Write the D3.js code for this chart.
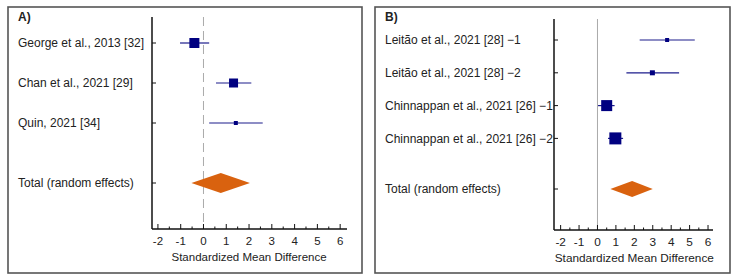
<!DOCTYPE html>
<html>
<head>
<meta charset="utf-8">
<script src="https://cdn.jsdelivr.net/npm/d3@7"></script>
<style>
  body { margin: 0; background: #fff; }
  text { font-family: "Liberation Sans", Arial, sans-serif; fill: #222; }
</style>
</head>
<body>
<div id="chart-area"></div>
<script>
// Panel A data
const studiesA = ['George et al., 2013 [32]', 'Chan et al., 2021 [29]', 'Quin, 2021 [34]'];
const smdA = [-0.4, 1.32, 1.42];
const lowA = [-1.03, 0.55, 0.25];
const highA = [0.25, 2.1, 2.6];
const weightA = [10, 9, 4];
const totalA = [-0.53, 0.76, 2.04];

// Panel B data
const studiesB = ['Leitão et al., 2021 [28] \u22121', 'Leitão et al., 2021 [28] \u22122',
    'Chinnappan et al., 2021 [26] \u22121', 'Chinnappan et al., 2021 [26] \u22122'];
const smdB = [3.78, 2.98, 0.5, 0.97];
const lowB = [2.29, 1.57, 0.03, 0.57];
const highB = [5.28, 4.43, 0.93, 1.39];
const weightB = [4, 5, 11, 12];
const totalB = [0.7, 1.88, 3.0];

const tickValues = [-2, -1, 0, 1, 2, 3, 4, 5, 6];
const minorTicks = d3.range(-2, 6.01, 0.5);

const svg = d3.select('#chart-area')
    .append('svg')
    .attr('width', 738)
    .attr('height', 280);

function drawPanel(opt) {
    const g = svg.append('g');

    // Panel border
    g.append('rect')
        .attr('x', opt.box[0])
        .attr('y', opt.box[1])
        .attr('width', opt.box[2])
        .attr('height', opt.box[3])
        .attr('fill', 'none')
        .attr('stroke', '#555')
        .attr('stroke-width', 1.6);

    g.append('text')
        .attr('x', opt.box[0] + 10)
        .attr('y', opt.box[1] + 14)
        .attr('font-size', '12px')
        .attr('font-weight', 'bold')
        .text(opt.tag);

    const x = d3.scaleLinear()
        .domain(opt.domain)
        .range([opt.left, opt.right]);

    // study rows, then the pooled row further down
    const y = d3.scalePoint()
        .domain(opt.studies)
        .range([opt.rowTop, opt.rowTop + opt.rowStep * (opt.studies.length - 1)]);
    const rows = opt.studies.concat(['Total (random effects)']);
    const yPos = (name, i) => i < opt.studies.length ? y(name) : opt.totalY;

    // Zero line
    g.append('line')
        .attr('x1', x(0)).attr('x2', x(0))
        .attr('y1', opt.top).attr('y2', opt.axisY)
        .attr('stroke', '#aaa')
        .attr('stroke-width', 1)
        .attr('stroke-dasharray', opt.dashed ? '9,5' : null);

    // Y axis line and ticks
    g.append('line')
        .attr('x1', opt.left).attr('x2', opt.left)
        .attr('y1', opt.top).attr('y2', opt.axisY)
        .attr('stroke', '#111').attr('stroke-width', 1.5);

    g.selectAll('.row-tick')
        .data(rows)
        .enter()
        .append('line')
        .attr('x1', opt.left).attr('x2', opt.left + 4)
        .attr('y1', (d, i) => yPos(d, i)).attr('y2', (d, i) => yPos(d, i))
        .attr('stroke', '#111');

    g.selectAll('.row-label')
        .data(rows)
        .enter()
        .append('text')
        .attr('x', opt.labelX)
        .attr('y', (d, i) => yPos(d, i))
        .attr('dy', '0.35em')
        .attr('font-size', opt.labelSize)
        .text(d => d);

    // X axis
    const xAxis = g.append('g')
        .attr('transform', 'translate(0,' + opt.axisY + ')');
    xAxis.append('line')
        .attr('x1', opt.left).attr('x2', opt.right)
        .attr('stroke', '#111').attr('stroke-width', 1.5);
    xAxis.selectAll('.minor')
        .data(minorTicks)
        .enter()
        .append('line')
        .attr('x1', d => x(d)).attr('x2', d => x(d))
        .attr('y1', d => Number.isInteger(d) ? -5 : -2.5).attr('y2', 0)
        .attr('stroke', '#111');
    xAxis.selectAll('.tick-label')
        .data(tickValues)
        .enter()
        .append('text')
        .attr('x', d => x(d))
        .attr('y', 16)
        .attr('text-anchor', 'middle')
        .attr('font-size', opt.axisSize)
        .text(d => d);
    xAxis.append('text')
        .attr('x', (x(-2) + x(6)) / 2)
        .attr('y', 32)
        .attr('text-anchor', 'middle')
        .attr('font-size', opt.axisSize)
        .text('Standardized Mean Difference');

    // Confidence intervals
    g.selectAll('.ci')
        .data(opt.studies)
        .enter()
        .append('line')
        .attr('x1', (d, i) => x(opt.low[i]))
        .attr('x2', (d, i) => x(opt.high[i]))
        .attr('y1', d => y(d)).attr('y2', d => y(d))
        .attr('stroke', '#1c1c8c')
        .attr('stroke-width', 1.2);

    // Weighted squares
    g.selectAll('.box')
        .data(opt.studies)
        .enter()
        .append('rect')
        .attr('x', (d, i) => x(opt.smd[i]) - opt.weight[i] / 2)
        .attr('y', (d, i) => y(d) - opt.weight[i] / 2)
        .attr('width', (d, i) => opt.weight[i])
        .attr('height', (d, i) => opt.weight[i])
        .attr('fill', '#000080');

    // Pooled diamond
    const t = opt.total;
    const dh = opt.diamondH / 2;
    g.append('path')
        .attr('d', 'M' + x(t[0]) + ',' + opt.totalY +
            'L' + x(t[1]) + ',' + (opt.totalY - dh) +
            'L' + x(t[2]) + ',' + opt.totalY +
            'L' + x(t[1]) + ',' + (opt.totalY + dh) + 'Z')
        .attr('fill', '#d9620f');
}

drawPanel({
    tag: 'A)', box: [8, 7, 354, 266],
    domain: [-2.26, 6.3], left: 152, right: 347,
    top: 17, axisY: 229, rowTop: 43, rowStep: 40, totalY: 183,
    labelX: 18, labelSize: '12px', axisSize: '11.5px', dashed: true,
    studies: studiesA, smd: smdA, low: lowA, high: highA, weight: weightA,
    total: totalA, diamondH: 20
});

drawPanel({
    tag: 'B)', box: [375, 7, 355, 266],
    domain: [-2.36, 6.27], left: 554, right: 713,
    top: 19, axisY: 230, rowTop: 40, rowStep: 32.8, totalY: 189,
    labelX: 385, labelSize: '12px', axisSize: '11.8px', dashed: false,
    studies: studiesB, smd: smdB, low: lowB, high: highB, weight: weightB,
    total: totalB, diamondH: 16
});
</script>
</body>
</html>
